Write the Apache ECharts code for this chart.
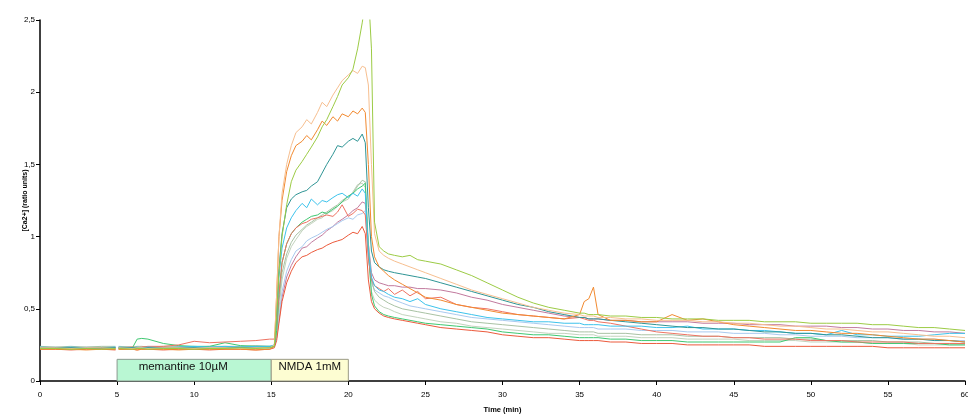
<!DOCTYPE html>
<html><head><meta charset="utf-8">
<script src="https://cdn.jsdelivr.net/npm/echarts@6/dist/echarts.min.js"></script>
<style>html,body{margin:0;padding:0;background:#fff}#c{width:968px;height:414px}</style>
</head><body><div id="c"></div>
<script>
// time (min); value at 5 is a gap (solution change)
const T = [0,1,2,3,4,4.9,5,5.1,6,6.3,6.6,7,8,9,10,11,12,13,14,14.9,
15.2,15.35,15.5,15.7,16,16.3,16.6,17,17.3,17.6,18,18.3,18.6,19,19.3,19.6,20,20.3,20.6,20.9,21.1,21.3,21.5,21.7,22,22.3,22.6,23,
23.5,24,24.5,25,26,27,28,29,30,31,32,33,34,35,35.3,35.6,35.9,36.2,37,38,39,40,41,42,43,44,45,46,47,48,49,50,51,52,53,54,55,56,57,58,59,60];

const yellowGreen = [0.225,0.225,0.22,0.225,0.22,0.225,null,0.225,0.22,0.225,0.225,0.22,0.225,0.225,0.22,0.225,0.225,0.23,0.225,0.23,
0.24,0.45,0.75,1.0,1.22,1.38,1.46,1.52,1.57,1.62,1.69,1.76,1.81,1.90,1.97,2.05,2.10,2.16,2.30,2.48,2.62,2.70,2.30,1.10,0.93,0.90,0.88,0.87,
0.86,0.87,0.84,0.83,0.81,0.77,0.73,0.68,0.63,0.58,0.54,0.51,0.49,0.47,0.47,0.46,0.46,0.46,0.45,0.45,0.44,0.44,0.43,0.43,0.43,0.42,0.42,0.42,0.41,0.41,0.41,0.40,0.40,0.40,0.40,0.39,0.39,0.38,0.37,0.37,0.36,0.35];
const peach = [0.23,0.23,0.225,0.23,0.23,0.225,null,0.23,0.225,0.23,0.23,0.225,0.23,0.23,0.225,0.23,0.23,0.225,0.23,0.23,
0.25,0.60,1.00,1.30,1.50,1.63,1.72,1.76,1.81,1.78,1.86,1.93,1.90,1.98,2.03,2.08,2.12,2.15,2.13,2.18,2.17,2.05,1.50,1.02,0.90,0.87,0.85,0.83,
0.81,0.79,0.77,0.75,0.71,0.67,0.63,0.60,0.57,0.54,0.51,0.49,0.47,0.46,0.45,0.45,0.45,0.44,0.44,0.43,0.43,0.42,0.42,0.42,0.41,0.41,0.40,0.40,0.39,0.38,0.38,0.37,0.36,0.36,0.35,0.34,0.34,0.33,0.32,0.31,0.31,0.30];
const orange = [0.22,0.22,0.22,0.215,0.22,0.22,null,0.22,0.22,0.215,0.22,0.22,0.22,0.215,0.22,0.22,0.22,0.22,0.215,0.22,
0.24,0.60,1.00,1.25,1.45,1.56,1.63,1.66,1.70,1.67,1.74,1.80,1.77,1.83,1.80,1.85,1.83,1.87,1.85,1.89,1.86,1.50,1.00,0.86,0.79,0.76,0.73,0.70,
0.67,0.64,0.61,0.58,0.56,0.53,0.51,0.49,0.47,0.46,0.45,0.44,0.43,0.46,0.55,0.57,0.65,0.46,0.42,0.42,0.41,0.41,0.46,0.42,0.43,0.41,0.39,0.38,0.37,0.36,0.35,0.35,0.34,0.33,0.33,0.32,0.31,0.30,0.29,0.29,0.28,0.27];
const teal = [0.23,0.23,0.23,0.225,0.23,0.23,null,0.23,0.23,0.23,0.225,0.23,0.23,0.23,0.23,0.225,0.23,0.23,0.23,0.23,
0.24,0.45,0.78,1.02,1.20,1.26,1.29,1.31,1.32,1.35,1.38,1.44,1.50,1.57,1.63,1.62,1.66,1.68,1.66,1.71,1.65,1.20,0.90,0.82,0.79,0.77,0.76,0.75,
0.74,0.73,0.72,0.71,0.68,0.65,0.62,0.59,0.56,0.53,0.51,0.48,0.46,0.44,0.44,0.43,0.43,0.43,0.42,0.41,0.40,0.39,0.38,0.37,0.37,0.36,0.36,0.35,0.34,0.34,0.33,0.33,0.32,0.32,0.31,0.30,0.30,0.29,0.29,0.28,0.28,0.27];
const cyan = [0.235,0.23,0.235,0.23,0.23,0.235,null,0.235,0.23,0.235,0.23,0.235,0.23,0.235,0.24,0.235,0.24,0.235,0.24,0.24,
0.25,0.42,0.72,0.92,1.06,1.13,1.18,1.23,1.20,1.26,1.22,1.25,1.24,1.27,1.29,1.30,1.27,1.30,1.28,1.33,1.30,0.90,0.72,0.66,0.63,0.62,0.60,0.58,
0.57,0.55,0.57,0.53,0.50,0.48,0.46,0.44,0.43,0.42,0.41,0.41,0.40,0.40,0.39,0.39,0.39,0.39,0.38,0.38,0.38,0.37,0.37,0.38,0.36,0.36,0.36,0.35,0.35,0.34,0.33,0.33,0.32,0.35,0.32,0.32,0.31,0.31,0.31,0.32,0.33,0.33];
const green = [0.225,0.225,0.22,0.225,0.225,0.22,null,0.225,0.23,0.29,0.295,0.29,0.26,0.245,0.24,0.24,0.265,0.245,0.24,0.24,
0.24,0.35,0.60,0.82,0.95,1.02,1.06,1.10,1.12,1.14,1.15,1.17,1.16,1.19,1.21,1.24,1.28,1.30,1.33,1.35,1.37,0.90,0.60,0.52,0.48,0.46,0.45,0.44,
0.43,0.42,0.41,0.40,0.39,0.38,0.37,0.36,0.34,0.33,0.32,0.32,0.31,0.30,0.30,0.30,0.30,0.30,0.29,0.29,0.28,0.28,0.28,0.27,0.27,0.27,0.27,0.27,0.27,0.27,0.30,0.30,0.28,0.27,0.27,0.26,0.26,0.26,0.26,0.26,0.25,0.25];
const paleGreen = [0.24,0.235,0.24,0.235,0.24,0.24,null,0.24,0.235,0.24,0.24,0.235,0.24,0.24,0.235,0.24,0.24,0.24,0.245,0.24,
0.24,0.33,0.55,0.75,0.88,0.96,1.01,1.05,1.08,1.10,1.13,1.15,1.17,1.20,1.22,1.25,1.28,1.30,1.35,1.39,1.38,0.95,0.70,0.62,0.58,0.56,0.54,0.52,
0.50,0.49,0.48,0.47,0.45,0.43,0.41,0.40,0.39,0.38,0.37,0.36,0.35,0.34,0.34,0.34,0.34,0.33,0.33,0.33,0.32,0.32,0.32,0.31,0.31,0.31,0.30,0.30,0.30,0.30,0.29,0.29,0.28,0.28,0.28,0.28,0.27,0.27,0.27,0.26,0.26,0.26];
const greyGreen = [0.23,0.23,0.225,0.23,0.23,0.23,null,0.23,0.23,0.225,0.23,0.23,0.23,0.225,0.23,0.23,0.23,0.225,0.23,0.23,
0.24,0.32,0.50,0.70,0.85,0.93,0.98,1.04,1.07,1.09,1.12,1.13,1.16,1.18,1.21,1.24,1.26,1.31,1.36,1.37,1.34,0.90,0.62,0.56,0.53,0.51,0.50,0.48,
0.46,0.45,0.44,0.43,0.41,0.40,0.38,0.37,0.36,0.35,0.34,0.33,0.33,0.32,0.32,0.32,0.32,0.31,0.31,0.31,0.30,0.30,0.30,0.29,0.29,0.29,0.29,0.28,0.28,0.28,0.28,0.27,0.27,0.27,0.27,0.26,0.26,0.26,0.25,0.25,0.25,0.25];
const lightBlue = [0.235,0.235,0.23,0.235,0.235,0.23,null,0.235,0.235,0.23,0.235,0.235,0.23,0.235,0.235,0.23,0.235,0.24,0.235,0.24,
0.24,0.30,0.45,0.62,0.76,0.84,0.90,0.93,0.97,0.99,1.01,1.03,1.05,1.07,1.09,1.11,1.13,1.12,1.15,1.16,1.18,0.85,0.68,0.63,0.61,0.59,0.58,0.56,
0.54,0.52,0.51,0.50,0.48,0.46,0.44,0.43,0.42,0.41,0.40,0.39,0.38,0.37,0.37,0.37,0.37,0.36,0.36,0.36,0.35,0.35,0.35,0.34,0.34,0.34,0.33,0.33,0.33,0.32,0.32,0.31,0.31,0.31,0.30,0.30,0.30,0.29,0.29,0.29,0.28,0.28];
const mauve = [0.23,0.23,0.23,0.225,0.23,0.23,null,0.23,0.23,0.23,0.225,0.23,0.23,0.23,0.23,0.23,0.23,0.235,0.23,0.235,
0.24,0.30,0.42,0.58,0.72,0.80,0.86,0.92,0.93,0.96,0.99,1.01,1.04,1.07,1.10,1.12,1.15,1.18,1.20,1.24,1.23,0.95,0.75,0.70,0.68,0.67,0.66,0.66,
0.65,0.65,0.64,0.64,0.63,0.61,0.58,0.56,0.53,0.51,0.49,0.47,0.45,0.44,0.44,0.43,0.43,0.43,0.42,0.42,0.41,0.41,0.41,0.41,0.40,0.40,0.40,0.39,0.39,0.39,0.38,0.38,0.38,0.37,0.37,0.36,0.36,0.35,0.35,0.34,0.34,0.33];
const red = [0.22,0.22,0.215,0.22,0.22,0.215,null,0.22,0.22,0.215,0.22,0.22,0.215,0.22,0.22,0.215,0.22,0.22,0.215,0.22,
0.23,0.28,0.40,0.55,0.68,0.76,0.82,0.86,0.87,0.89,0.91,0.92,0.94,0.96,0.97,0.98,1.01,1.03,1.02,1.07,1.02,0.70,0.55,0.50,0.47,0.45,0.44,0.43,
0.42,0.41,0.40,0.39,0.37,0.36,0.35,0.34,0.32,0.31,0.30,0.30,0.29,0.28,0.28,0.28,0.28,0.28,0.27,0.27,0.26,0.26,0.26,0.25,0.25,0.25,0.25,0.25,0.24,0.24,0.24,0.24,0.24,0.24,0.24,0.24,0.23,0.23,0.23,0.23,0.23,0.23];
const salmon = [0.23,0.23,0.23,0.23,0.23,0.23,null,0.23,0.235,0.23,0.235,0.24,0.24,0.25,0.275,0.265,0.27,0.275,0.28,0.29,
0.29,0.40,0.60,0.82,0.95,1.02,1.06,1.09,1.10,1.12,1.13,1.14,1.15,1.14,1.17,1.22,1.14,1.16,1.19,1.18,1.15,0.85,0.70,0.66,0.64,0.62,0.64,0.60,
0.63,0.59,0.62,0.57,0.58,0.53,0.51,0.50,0.48,0.46,0.45,0.44,0.43,0.44,0.43,0.42,0.42,0.41,0.40,0.38,0.36,0.34,0.33,0.32,0.31,0.31,0.30,0.30,0.29,0.29,0.29,0.28,0.28,0.28,0.27,0.27,0.27,0.27,0.26,0.26,0.26,0.26];

const xTicks = [0,5,10,15,20,25,30,35,40,45,50,55,60];
const yTicks = [0,0.5,1,1.5,2,2.5];
const boxes = [
  {label:'memantine 10µM', from:5, to:15, top:0.15},
  {label:'NMDA 1mM', from:15, to:20, top:0.15}
];

const traces = [
  ['mauve', mauve, '#c27a9e'],
  ['lightBlue', lightBlue, '#a9caef'],
  ['greyGreen', greyGreen, '#c2d3bd'],
  ['paleGreen', paleGreen, '#a9c2a4'],
  ['green', green, '#3fc871'],
  ['red', red, '#ec5a3c'],
  ['salmon', salmon, '#ee7262'],
  ['cyan', cyan, '#3dc3ec'],
  ['teal', teal, '#2f9595'],
  ['orange', orange, '#f28a30'],
  ['peach', peach, '#f7bf90'],
  ['yellowGreen', yellowGreen, '#9ccb45']
];

const FONT = 'Liberation Sans, Arial, sans-serif';
const boxColors = [['#b9f7d3','#8a9a8f'],['#fdfdd2','#9a9a86']];

const series = traces.map(([name, vals, col]) => ({
  name, type:'line', symbol:'none', animation:false, connectNulls:false,
  lineStyle:{width:1, color:col}, itemStyle:{color:col},
  data: T.map((t,i)=>[t, vals[i]])
}));
series.unshift({
  name:'boxes', type:'line', symbol:'none', animation:false, data:[[0,null]],
  markArea:{
    silent:true,
    data: boxes.map((b,i)=>[
      {xAxis:b.from, yAxis:0, name:b.label,
       itemStyle:{color:boxColors[i][0], borderColor:boxColors[i][1], borderWidth:1},
       label:{show:true, position:'inside', offset: i===0?[-11,-3]:[0,-3], color:'#111', fontSize:11.5, fontFamily:FONT}},
      {xAxis:b.to, yAxis:b.top}
    ])
  }
});

const chart = echarts.init(document.getElementById('c'), null, {renderer:'canvas'});
chart.setOption({
  animation:false,
  backgroundColor:'#ffffff',
  grid:{left:40, right:3, top:20, bottom:33, containLabel:false, outerBoundsMode:'none'},
  xAxis:{type:'value', min:0, max:60, interval:5,
    name:'Time (min)', nameLocation:'middle', nameGap:25, nameMoveOverlap:false,
    nameTextStyle:{fontSize:7.5, fontWeight:'bold', color:'#000', fontFamily:FONT},
    axisLine:{show:true, onZero:false, lineStyle:{color:'#000', width:1.5}},
    axisTick:{show:true, length:4, lineStyle:{color:'#000'}},
    axisLabel:{fontSize:8, color:'#000', margin:10, fontFamily:FONT,
      formatter:v=> xTicks.includes(v)? String(v):''},
    splitLine:{show:false}},
  yAxis:{type:'value', min:0, max:2.5, interval:0.5,
    name:'[Ca2+] (ratio units)', nameLocation:'middle', nameGap:11, nameMoveOverlap:false,
    nameTextStyle:{fontSize:7, fontWeight:'bold', color:'#000', fontFamily:FONT},
    axisLine:{show:true, lineStyle:{color:'#000', width:1.5}},
    axisTick:{show:true, length:4, lineStyle:{color:'#000'}},
    axisLabel:{fontSize:8, color:'#000', margin:5, fontFamily:FONT,
      formatter:v=> yTicks.includes(v)? String(v).replace('.',','):''},
    splitLine:{show:false}},
  series
});
</script></body></html>
